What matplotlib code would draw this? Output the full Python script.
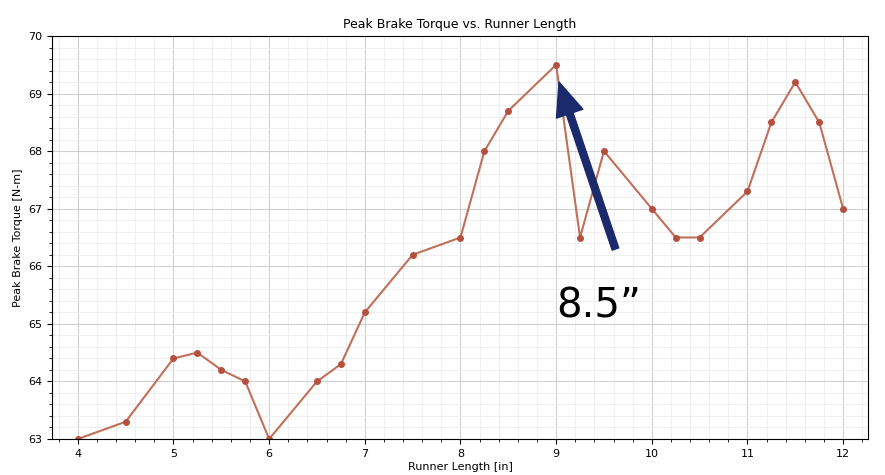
import matplotlib
matplotlib.use("Agg")
import matplotlib.pyplot as plt
from matplotlib.ticker import AutoMinorLocator

x = [4, 4.5, 5, 5.25, 5.5, 5.75, 6, 6.5, 6.75, 7, 7.5, 8, 8.25, 8.5, 9, 9.25, 9.5, 10, 10.25, 10.5, 11, 11.25, 11.5, 11.75, 12]
y = [63, 63.3, 64.4, 64.5, 64.2, 64.0, 63.0, 64.0, 64.3, 65.2, 66.2, 66.5, 68, 68.7, 69.5, 66.5, 68, 67, 66.5, 66.5, 67.3, 68.5, 69.2, 68.5, 67]

fig = plt.figure(figsize=(8.85, 4.75), dpi=100)
ax = fig.add_axes([52/885, 36/475, 816/885, 403/475])
ax.plot(x, y, color="#c0705a", marker="o", markersize=4, markerfacecolor="#b5503f", markeredgecolor="#b5503f", linewidth=1.5)
ax.set_xlim(3.73, 12.26)
ax.set_ylim(63, 70)
ax.xaxis.set_minor_locator(AutoMinorLocator(5))
ax.yaxis.set_minor_locator(AutoMinorLocator(5))
ax.grid(which="major", color="#d0d0d0", linewidth=0.8)
ax.grid(which="minor", color="#ececec", linewidth=0.6)
ax.tick_params(labelsize=8)
ax.set_title("Peak Brake Torque vs. Runner Length", fontsize=9)
ax.set_xlabel("Runner Length [in]", fontsize=8, labelpad=2)
ax.set_ylabel("Peak Brake Torque [N-m]", fontsize=8)
ax.annotate("", xy=(9.03, 69.2), xytext=(9.62, 66.3),
            arrowprops=dict(facecolor="#1a2a6c", edgecolor="#1a2a6c", width=5, headwidth=20, headlength=24))
ax.text(9.0, 65.3, "8.5\u201d", fontsize=29, color="black", va="center")
fig.savefig("out.png")
